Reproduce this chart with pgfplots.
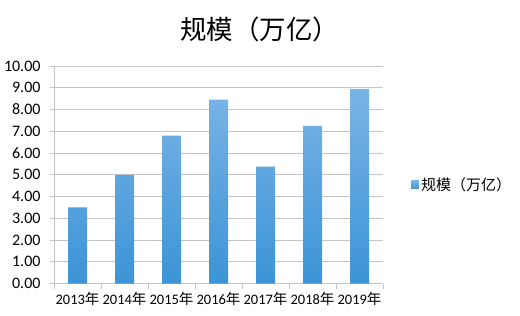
\documentclass[border=0pt]{standalone}
\usepackage{pgfplots}
\pgfplotsset{compat=1.18}
\usepackage{fontspec}
\setmainfont{Carlito}
\newfontfamily\cjk{Noto Sans CJK SC}
\definecolor{bartop}{HTML}{7AB4E6}
\definecolor{barbot}{HTML}{3C94D6}
\definecolor{gridc}{HTML}{C4C4C4}
\begin{document}
\begin{tikzpicture}[x=1bp,y=1bp]
\useasboundingbox (0,0) rectangle (520,315);
\begin{axis}[
  at={(54bp,31.5bp)}, anchor=south west,
  scale only axis, width=329bp, height=217.5bp,
  xmin=-0.5, xmax=6.5, ymin=0, ymax=10,
  axis x line*=bottom, axis y line*=left,
  axis line style={gridc, line width=0.8pt},
  xtick={0,1,2,3,4,5,6},
  xticklabels={2013{\cjk 年},2014{\cjk 年},2015{\cjk 年},2016{\cjk 年},2017{\cjk 年},2018{\cjk 年},2019{\cjk 年}},
  major x tick style={draw=none},
  minor xtick={-0.5,0.5,1.5,2.5,3.5,4.5,5.5,6.5},
  minor x tick style={gridc, line width=0.8pt},
  minor tick length=5bp,
  ytick={0,1,...,10},
  y tick label style={font=\fontsize{16bp}{18bp}\selectfont, xshift=-6bp},
  yticklabel style={/pgf/number format/.cd, fixed, fixed zerofill, precision=2},
  y tick style={gridc, line width=0.8pt},
  major tick length=4bp,
  tick align=outside,
  ymajorgrids, grid style={gridc, line width=0.8pt},
  /pgf/number format/assume math mode=true,
  tick label style={text=black},
  x tick label style={font=\fontsize{14.5bp}{16bp}\selectfont, yshift=-1bp},
  title={\cjk 规模（万亿）},
  title style={font=\cjk\fontsize{26.5bp}{30bp}\selectfont, at={(0.626,1)}, yshift=14bp},
  legend style={at={(1,0.453)}, anchor=west, xshift=28bp, draw=none, fill=none,
    font=\cjk\fontsize{15bp}{17bp}\selectfont, inner sep=0pt},
  legend image code/.code={\fill[barbot!80!bartop] (0bp,-4bp) rectangle (8bp,4bp);},
]
\addplot[ybar, bar width=19bp, draw=none, top color=bartop, bottom color=barbot]
  coordinates {(0,3.50) (1,5.00) (2,6.80) (3,8.45) (4,5.37) (5,7.25) (6,8.95)};
\addlegendentry{规模（万亿）}
\end{axis}
\end{tikzpicture}
\end{document}
